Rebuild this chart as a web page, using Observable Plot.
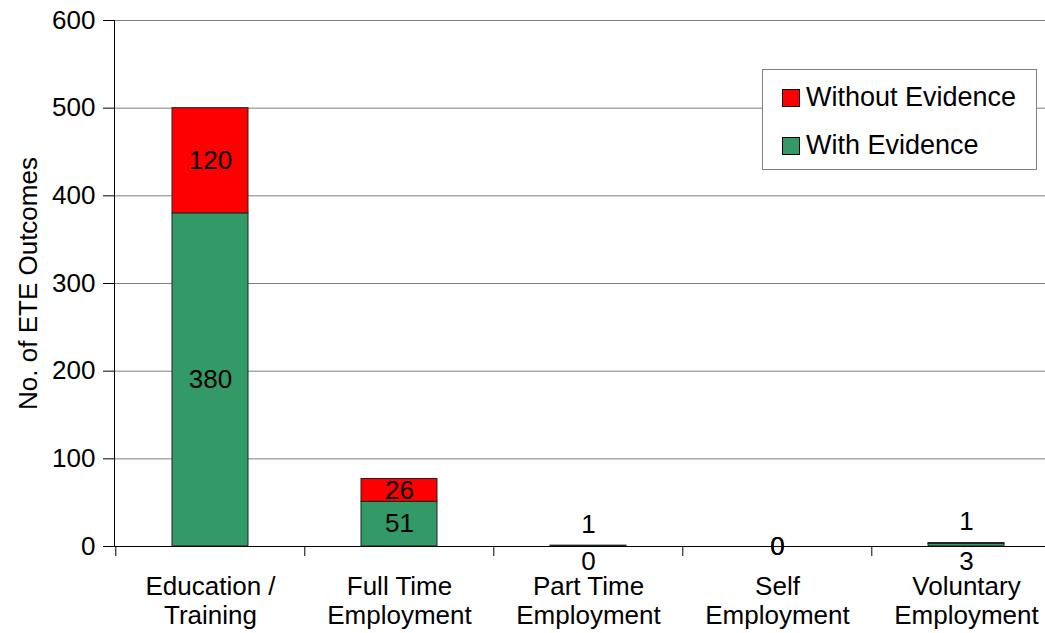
<!DOCTYPE html>
<html>
<head>
<meta charset="utf-8">
<script src="https://cdn.jsdelivr.net/npm/d3@7"></script>
<script src="https://cdn.jsdelivr.net/npm/@observablehq/plot@0.6"></script>
<style>
  html, body { margin: 0; padding: 0; background: #fff; overflow: hidden; }
  #wrap { position: relative; width: 1045px; height: 633px; font-family: "Liberation Sans", Arial, sans-serif; }
  #legend { position: absolute; left: 762px; top: 69px; width: 275px; height: 101px; border: 1px solid #808080; background: #fff; box-sizing: border-box; }
  .item { position: absolute; left: 19px; font-size: 27px; color: #000; line-height: 27px; white-space: nowrap; }
  .sw { display: inline-block; width: 16px; height: 16px; border: 1px solid #000; margin-right: 6px; vertical-align: -1px; }
</style>
</head>
<body>
<div id="wrap"></div>
<script>
const categories = ["Education /\nTraining", "Full Time\nEmployment", "Part Time\nEmployment", "Self\nEmployment", "Voluntary\nEmployment"];
const withEvidence = [380, 51, 0, 0, 3];
const withoutEvidence = [120, 26, 1, 0, 1];
const seriesNames = ["With Evidence", "Without Evidence"];
const seriesColors = ["#339966", "#FF0000"];
const yTicks = [0, 100, 200, 300, 400, 500, 600];

const rows = [];
categories.forEach((c, i) => {
  rows.push({cat: c, series: seriesNames[0], value: withEvidence[i]});
  rows.push({cat: c, series: seriesNames[1], value: withoutEvidence[i]});
});

// label table
const labels = [];
categories.forEach((c, i) => {
  const w = withEvidence[i], wo = withoutEvidence[i], total = w + wo;
  if (total >= 20) {
    labels.push({cat: c, y: w / 2, text: String(w), pos: "mid"});
    labels.push({cat: c, y: w + wo / 2, text: String(wo), pos: "mid"});
  } else if (total > 0) {
    labels.push({cat: c, y: 0, text: String(w), pos: "below"});
    labels.push({cat: c, y: total, text: String(wo), pos: "above"});
  } else {
    labels.push({cat: c, y: 0, text: String(w), pos: "mid"});
    labels.push({cat: c, y: 0, text: String(wo), pos: "mid"});
  }
});

const W = 1045, H = 633, mL = 114, mT = 20, mB = 87;
const xRange = [mL, 1061];
const step = (xRange[1] - xRange[0]) / categories.length;
const fs = 26;

const chart = Plot.plot({
  width: W,
  height: H,
  marginLeft: mL,
  marginRight: 0,
  marginTop: mT,
  marginBottom: mB,
  style: {fontFamily: '"Liberation Sans", Arial, sans-serif', fontSize: fs + "px", color: "#000", background: "#fff", overflow: "hidden"},
  x: {domain: categories, range: xRange, paddingInner: 0.6, paddingOuter: 0.3},
  y: {domain: [0, 600]},
  color: {domain: seriesNames, range: seriesColors},
  marks: [
    Plot.gridY(yTicks.filter(d => d > 0), {stroke: "#808080", strokeOpacity: 1, strokeWidth: 1}),
    Plot.barY(rows, {x: "cat", y: "value", fill: "series", stroke: "#222", strokeWidth: 1, order: seriesNames}),
    Plot.ruleY([0], {stroke: "#000", strokeWidth: 1}),
    Plot.ruleX(categories, {x: d => d, dx: -step / 2, stroke: "#000", insetTop: H - mT - mB, insetBottom: -10}),
    Plot.frame({anchor: "left", stroke: "#000"}),
    Plot.axisY({ticks: yTicks, tickSize: 11, tickPadding: 8, fontSize: fs, label: "No. of ETE Outcomes", labelAnchor: "center", labelArrow: "none", labelOffset: 96}),
    Plot.axisX({tickSize: 0, tickPadding: 29, fontSize: fs, lineHeight: 1.08, label: null}),
    Plot.text(labels.filter(d => d.pos === "mid"), {x: "cat", y: "y", text: "text", fontSize: fs, fill: "#000"}),
    Plot.text(labels.filter(d => d.pos === "below"), {x: "cat", y: "y", text: "text", fontSize: fs, fill: "#000", dy: 15}),
    Plot.text(labels.filter(d => d.pos === "above"), {x: "cat", y: "y", text: "text", fontSize: fs, fill: "#000", dy: -21})
  ]
});

const wrap = document.getElementById("wrap");
wrap.appendChild(chart);

const legend = document.createElement("div");
legend.id = "legend";
const order = [1, 0];
order.forEach((k, j) => {
  const it = document.createElement("div");
  it.className = "item";
  it.style.top = (14 + j * 48) + "px";
  const sw = document.createElement("span");
  sw.className = "sw";
  sw.style.background = seriesColors[k];
  it.appendChild(sw);
  it.appendChild(document.createTextNode(seriesNames[k]));
  legend.appendChild(it);
});
wrap.appendChild(legend);
</script>
</body>
</html>
